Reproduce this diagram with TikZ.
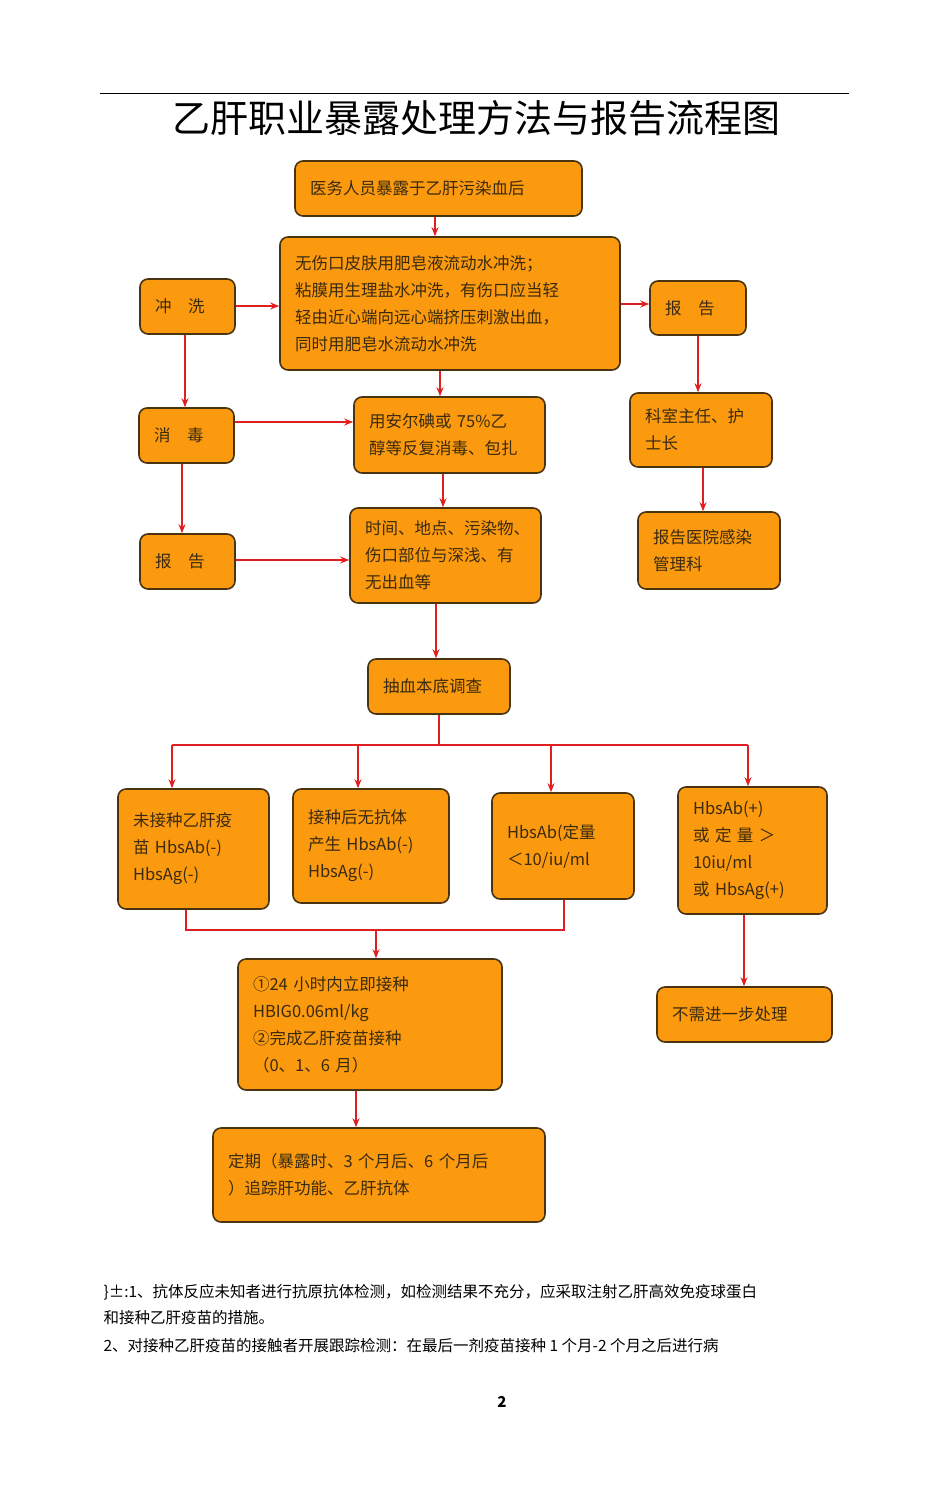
\documentclass[tikz,border=0pt]{standalone}
\usepackage{fontspec}
\setmainfont{Noto Sans CJK SC}
\usetikzlibrary{arrows.meta}
\definecolor{org}{HTML}{FB9A0E}
\definecolor{bd}{HTML}{4A3410}
\definecolor{txt}{HTML}{3A2A10}
\definecolor{ar}{HTML}{E02020}
\tikzset{
 box/.style={draw=bd,line width=1.6pt,fill=org,rounded corners=8pt,inner xsep=15pt,align=left,text=txt,font=\fontsize{16.5}{27}\selectfont},
 arr/.style={draw=ar,line width=1.3pt,-{Stealth[length=9pt,width=7pt]}},
 ln/.style={draw=ar,line width=1.3pt}
}
\newcommand{\bx}[6]{\node[box,minimum width={#4-#2},minimum height={#5-#3},text width={#4-#2-30}] (#1) at ({(#2+#4)/2},{(#3+#5)/2}) {#6};}
\begin{document}
\begin{tikzpicture}[x=1pt,y=-1pt]
\useasboundingbox (0,0) rectangle (950,1491);
\draw[line width=0.6pt] (100,93) -- (849,93);
\node[font=\fontsize{38}{40}\selectfont] (title) at (476,118) {乙肝职业暴露处理方法与报告流程图};
\bx{a}{295}{161}{582}{216}{医务人员暴露于乙肝污染血后}
\bx{b}{280}{237}{620}{370}{无伤口皮肤用肥皂液流动水冲洗；\\粘膜用生理盐水冲洗，有伤口应当轻\\轻由近心端向远心端挤压刺激出血，\\同时用肥皂水流动水冲洗}
\bx{c}{140}{279}{235}{334}{冲\quad 洗}
\bx{d}{650}{281}{746}{335}{报\quad 告}
\bx{e}{139}{408}{234}{463}{消\quad 毒}
\bx{f}{354}{397}{545}{473}{用安尔碘或 75\%乙\\醇等反复消毒、包扎}
\bx{g}{630}{393}{772}{467}{科室主任、护\\士长}
\bx{h}{140}{534}{235}{589}{报\quad 告}
\bx{i}{350}{508}{541}{603}{时间、地点、污染物、\\伤口部位与深浅、有\\无出血等}
\bx{j}{638}{512}{780}{589}{报告医院感染\\管理科}
\bx{k}{368}{659}{510}{714}{抽血本底调查}
\bx{l}{118}{789}{269}{909}{未接种乙肝疫\\苗 HbsAb(-)\\HbsAg(-)}
\bx{m}{293}{789}{449}{903}{接种后无抗体\\产生 HbsAb(-)\\HbsAg(-)}
\bx{n}{492}{793}{634}{899}{HbsAb(定量\\＜10/iu/ml}
\bx{o}{678}{787}{827}{914}{HbsAb(+)\\或\ 定\ 量\ ＞\\10iu/ml\\或 HbsAg(+)}
\bx{p}{238}{959}{502}{1090}{①24 小时内立即接种\\HBIG0.06ml/kg\\②完成乙肝疫苗接种\\（0、1、6 月）}
\bx{q}{657}{987}{832}{1042}{不需进一步处理}
\bx{r}{213}{1128}{545}{1222}{定期（暴露时、3 个月后、6 个月后\\）追踪肝功能、乙肝抗体}
\draw[arr] (a.south -| 435,0) -- (b.north -| 435,0);
\draw[arr] (c.east |- 0,306) -- (b.west |- 0,306);
\draw[arr] (b.east |- 0,304) -- (d.west |- 0,304);
\draw[arr] (b.south -| 440,0) -- (f.north -| 440,0);
\draw[arr] (c.south -| 185,0) -- (e.north -| 185,0);
\draw[arr] (e.east |- 0,422) -- (f.west |- 0,422);
\draw[arr] (d.south -| 698,0) -- (g.north -| 698,0);
\draw[arr] (f.south -| 443,0) -- (i.north -| 443,0);
\draw[arr] (e.south -| 182,0) -- (h.north -| 182,0);
\draw[arr] (h.east |- 0,560) -- (i.west |- 0,560);
\draw[arr] (g.south -| 703,0) -- (j.north -| 703,0);
\draw[arr] (i.south -| 436,0) -- (k.north -| 436,0);
\coordinate (s) at (439,745);
\draw[ln] (k.south -| 439,0) -- (s);
\draw[ln] (172,745) -- (748,745);
\draw[arr] (172,745) -- (l.north -| 172,0);
\draw[arr] (358,745) -- (m.north -| 358,0);
\draw[arr] (551,745) -- (n.north -| 551,0);
\draw[arr] (748,745) -- (o.north -| 748,0);
\draw[ln] (l.south -| 186,0) -- (186,930) -- (564,930) -- (n.south -| 564,0);
\draw[arr] (376,930) -- (p.north -| 376,0);
\draw[arr] (o.south -| 744,0) -- (q.north -| 744,0);
\draw[arr] (p.south -| 356,0) -- (r.north -| 356,0);
\node[anchor=west,font=\fontsize{15.5}{20}\selectfont] (f1) at (100,1292) {\}±:1、抗体反应未知者进行抗原抗体检测，如检测结果不充分，应采取注射乙肝高效免疫球蛋白};
\node[anchor=west,font=\fontsize{15.5}{20}\selectfont] (f2) at (100,1318) {和接种乙肝疫苗的措施。};
\node[anchor=west,font=\fontsize{15.5}{20}\selectfont] (f3) at (100,1346) {2、对接种乙肝疫苗的接触者开展跟踪检测：在最后一剂疫苗接种 1 个月-2 个月之后进行病};
\node[font=\bfseries\fontsize{15}{18}\selectfont] (pg) at (502,1402) {2};
\end{tikzpicture}
\end{document}
